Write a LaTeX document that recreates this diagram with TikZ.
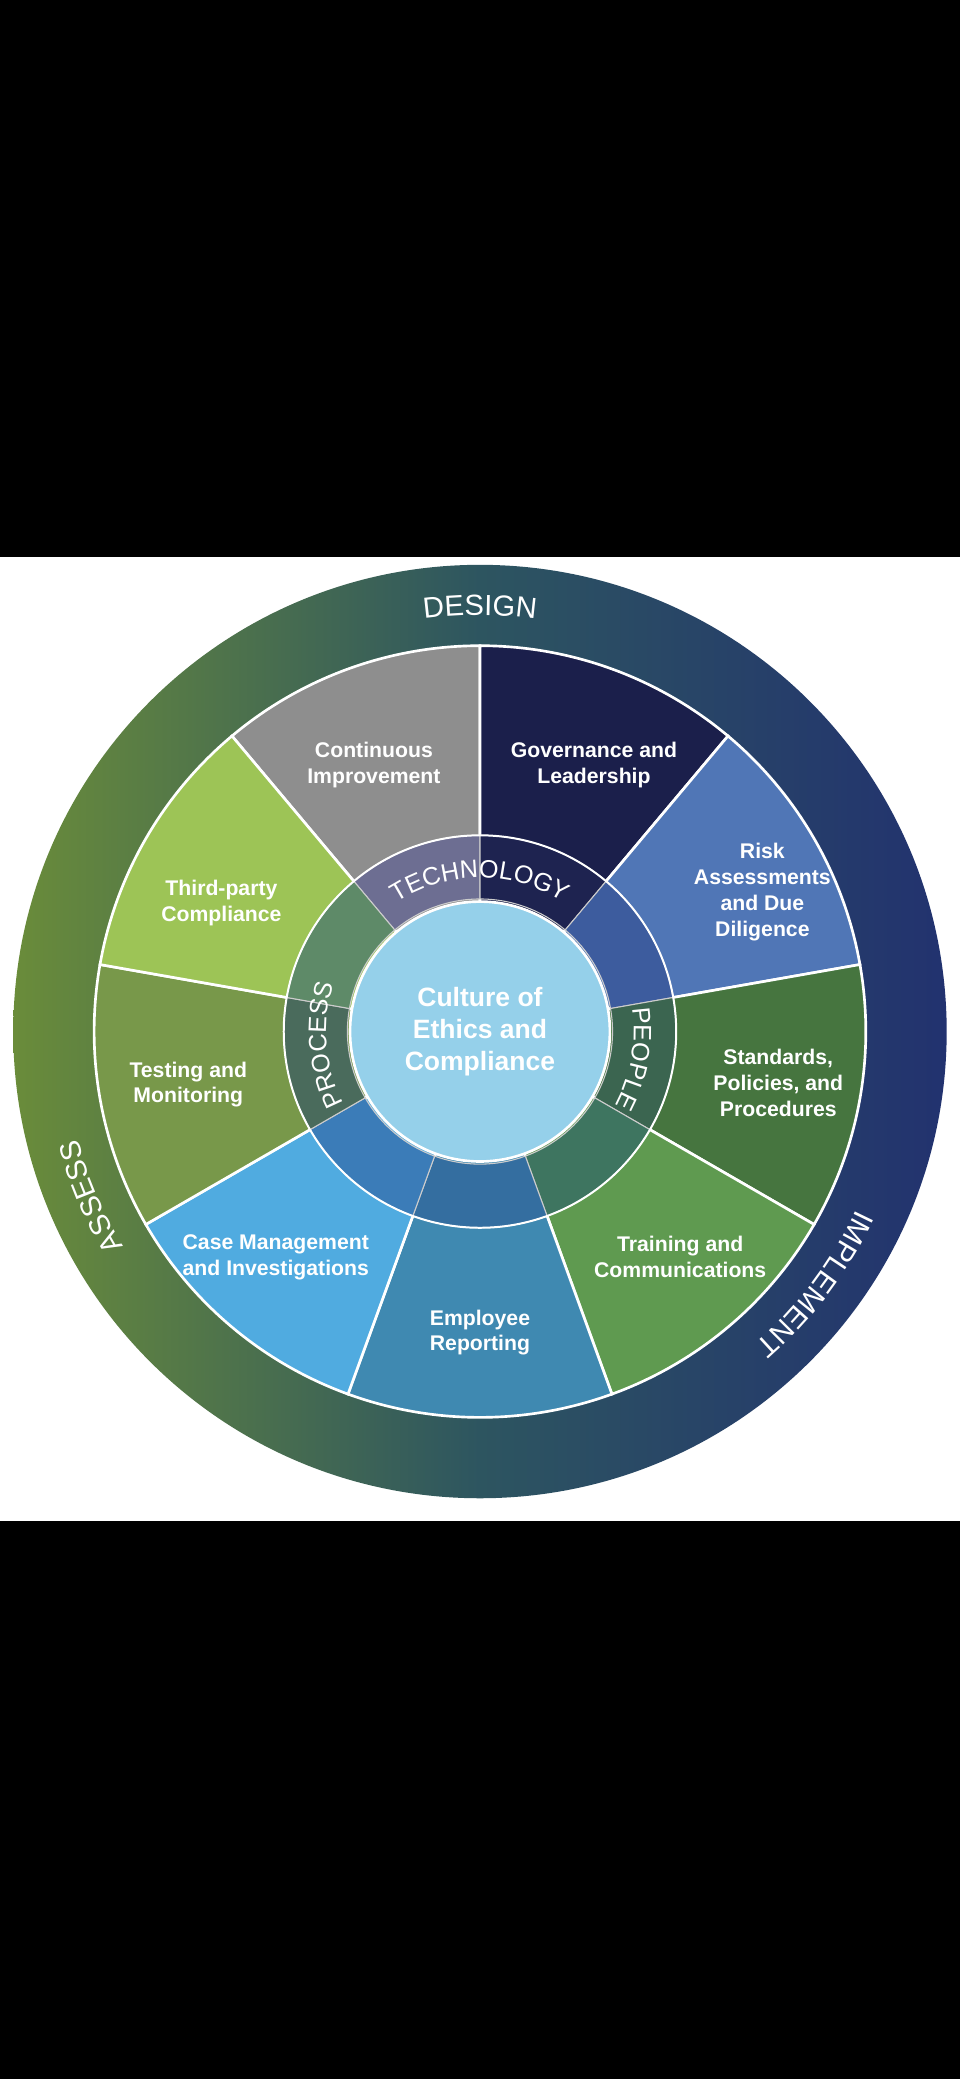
\documentclass[tikz,border=0pt]{standalone}
\usepackage{fontspec}
\setmainfont{Liberation Sans}
\usetikzlibrary{decorations.text}
\definecolor{cCI}{HTML}{8E8E8E}
\definecolor{cGL}{HTML}{1B1F4B}
\definecolor{cRA}{HTML}{5076B6}
\definecolor{cSP}{HTML}{46753F}
\definecolor{cTC}{HTML}{5F9A50}
\definecolor{cER}{HTML}{3F89B1}
\definecolor{cCM}{HTML}{50ABE0}
\definecolor{cTM}{HTML}{78984A}
\definecolor{cTP}{HTML}{9DC456}
\definecolor{rCI}{HTML}{6D6E92}
\definecolor{rGL}{HTML}{1E2350}
\definecolor{rRA}{HTML}{3D5C9E}
\definecolor{rSP}{HTML}{3B6550}
\definecolor{rTC}{HTML}{3E7560}
\definecolor{rER}{HTML}{346EA0}
\definecolor{rCM}{HTML}{3B7CB8}
\definecolor{rTM}{HTML}{4A6B5C}
\definecolor{rTP}{HTML}{5E8A68}
\definecolor{cCenter}{HTML}{95D0EA}
\definecolor{gGreen}{HTML}{6A8C3A}
\definecolor{gMid}{HTML}{2D5560}
\definecolor{gNavy}{HTML}{22326F}
\tikzset{
  lbl/.style={text=white,font=\fontsize{16}{19.5}\selectfont\bfseries,align=center},
  sep/.style={draw=white,line width=2pt},
}
\begin{document}
\begin{tikzpicture}[x=1pt,y=1pt]
\useasboundingbox (-362,-790) rectangle (362,778);
\fill[black] (-362,-790) rectangle (362,778);
\fill[white] (-362,-369) rectangle (362,358);
% outer ring
\shade[left color=gGreen,right color=gNavy,middle color=gMid] (0,0) circle (352);
% segments
\foreach \a/\c in {90/cCI,50/cGL,10/cRA,-30/cSP,-70/cTC,-110/cER,-150/cCM,170/cTM,130/cTP}{
  \filldraw[fill=\c,sep] (0,0) -- (\a:291) arc (\a:\a+40:291) -- cycle;
}
% inner ring
\foreach \a/\c in {90/rCI,50/rGL,10/rRA,-30/rSP,-70/rTC,-110/rER,-150/rCM,170/rTM,130/rTP}{
  \filldraw[fill=\c,draw=white!60!gray,line width=0.8pt] (\a:100) arc (\a:\a+40:100) -- (\a+40:148) arc (\a+40:\a:148) -- cycle;
}
\draw[white,line width=1.5pt] (0,0) circle (148);
\node[circle,fill=cCenter,draw=white,line width=2pt,minimum size=196pt,lbl,font=\fontsize{20}{24}\selectfont\bfseries] (center) at (0,0) {Culture of\\Ethics and\\Compliance};
% ring texts
\path[decorate,decoration={text along path,text align=center,text={|\fontsize{22}{22}\selectfont\color{white}|DESIGN}}] (100:314) arc (100:80:314);
\path[decorate,decoration={text along path,text align=center,text={|\fontsize{22}{22}\selectfont\color{white}|IMPLEMENT}}] (-12:314) arc (-12:-62:314);
\path[decorate,decoration={text along path,text align=center,text={|\fontsize{22}{22}\selectfont\color{white}|ASSESS}}] (218:314) arc (218:188:314);
\path[decorate,decoration={text along path,text align=center,text={|\fontsize{19}{19}\selectfont\color{white}|TECHNOLOGY}}] (140:116) arc (140:40:116);
\path[decorate,decoration={text along path,text align=center,text={|\fontsize{19}{19}\selectfont\color{white}|PROCESS}}] (215:116) arc (215:155:116);
\path[decorate,decoration={text along path,text align=center,text={|\fontsize{19}{19}\selectfont\color{white}|PEOPLE}}] (15:116) arc (15:-35:116);
% labels
\node[lbl] (ci) at (-80,201) {Continuous\\Improvement};
\node[lbl] (gl) at (86,201) {Governance and\\Leadership};
\node[lbl] (ra) at (213,105) {Risk\\Assessments\\and Due\\Diligence};
\node[lbl] (sp) at (225,-39) {Standards,\\Policies, and\\Procedures};
\node[lbl] (tc) at (151,-170) {Training and\\Communications};
\node[lbl] (er) at (0,-227) {Employee\\Reporting};
\node[lbl] (cm) at (-154,-170) {Case Management\\and Investigations};
\node[lbl] (tm) at (-220,-40) {Testing and\\Monitoring};
\node[lbl] (tp) at (-195,97) {Third-party\\Compliance};
\end{tikzpicture}
\end{document}
